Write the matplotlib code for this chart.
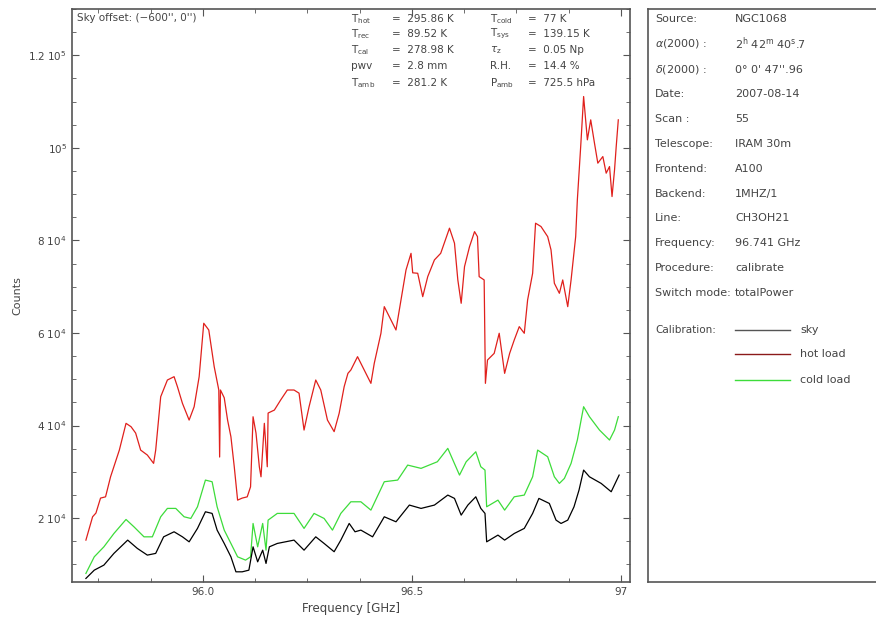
import matplotlib
matplotlib.use("Agg")
import matplotlib.pyplot as plt
from matplotlib.ticker import MultipleLocator

# calibration scan: counts vs frequency for sky, hot load and cold load
freq_hot = [95.720, 95.736, 95.744, 95.755, 95.767, 95.779, 95.800, 95.816, 95.828, 95.839,
            95.851, 95.867, 95.882, 95.887, 95.899, 95.915, 95.931, 95.939, 95.951, 95.967,
            95.979, 95.991, 96.002, 96.014, 96.027, 96.038, 96.040, 96.042, 96.051, 96.059,
            96.067, 96.075, 96.083, 96.094, 96.106, 96.114, 96.120, 96.127, 96.135, 96.139,
            96.147, 96.154, 96.156, 96.171, 96.186, 96.202, 96.218, 96.230, 96.242, 96.254,
            96.270, 96.282, 96.298, 96.314, 96.326, 96.338, 96.347, 96.354, 96.370, 96.386,
            96.402, 96.410, 96.426, 96.434, 96.450, 96.462, 96.470, 96.482, 96.486, 96.498,
            96.502, 96.514, 96.526, 96.538, 96.554, 96.569, 96.590, 96.602, 96.610, 96.618,
            96.626, 96.638, 96.650, 96.657, 96.661, 96.673, 96.676, 96.681, 96.697, 96.709,
            96.722, 96.734, 96.745, 96.757, 96.769, 96.777, 96.789, 96.796, 96.809, 96.825,
            96.833, 96.841, 96.853, 96.861, 96.873, 96.881, 96.892, 96.896, 96.904, 96.911,
            96.920, 96.928, 96.937, 96.945, 96.957, 96.965, 96.973, 96.979, 96.985, 96.989,
            96.994]
hot_load = [15250, 20290, 21100, 24330, 24600, 28930, 34700, 40480, 39750, 38380,
            34700, 33630, 31830, 34700, 46230, 49840, 50560, 48400, 44800, 41190,
            44070, 50560, 62100, 60650, 52720, 47680, 33200, 47680, 46000, 41190,
            37580, 31100, 23890, 24330, 24600, 26770, 41900, 38380, 31100, 28930,
            40480, 31100, 42700, 43350, 45520, 47680, 47680, 47000, 39030, 44070,
            49840, 47680, 41190, 38690, 42640, 48400, 51280, 52000, 54880, 52000,
            49120, 53440, 59940, 65690, 62810, 60650, 64980, 71460, 73620, 77210,
            73000, 72900, 67850, 72180, 75790, 77210, 82640, 79400, 71460, 66420,
            74340, 78660, 81900, 80820, 72180, 71460, 49120, 54160, 55600, 59940,
            51280, 55600, 58490, 61370, 59940, 67140, 72900, 83720, 83000, 80820,
            77950, 70740, 68580, 71460, 65690, 71460, 80820, 88760, 100280, 111090,
            101730, 106050, 101010, 96690, 98120, 94530, 95960, 89480, 95240, 100280,
            106050]

freq_cold = [95.720, 95.740, 95.763, 95.787, 95.816, 95.835, 95.859, 95.879, 95.899, 95.915,
             95.935, 95.955, 95.971, 95.987, 96.006, 96.022, 96.034, 96.051, 96.067, 96.083,
             96.102, 96.114, 96.120, 96.131, 96.143, 96.151, 96.156, 96.178, 96.218, 96.242,
             96.266, 96.290, 96.310, 96.330, 96.354, 96.378, 96.402, 96.434, 96.466, 96.490,
             96.522, 96.561, 96.586, 96.614, 96.630, 96.653, 96.665, 96.675, 96.679, 96.706,
             96.722, 96.745, 96.769, 96.789, 96.801, 96.825, 96.841, 96.853, 96.865, 96.881,
             96.896, 96.911, 96.925, 96.949, 96.973, 96.985, 96.994]
cold_load = [8050, 11640, 13800, 16680, 19710, 18120, 15960, 15960, 20290, 22100,
             22100, 20290, 19930, 22450, 28220, 27860, 22450, 17410, 14530, 11640,
             10930, 11640, 18850, 13800, 18850, 13080, 19570, 21020, 21020, 17780,
             21020, 19930, 17410, 21020, 23530, 23530, 21730, 27860, 28220, 31460,
             30750, 32180, 35070, 29300, 32180, 34340, 31100, 30380, 22450, 23890,
             21730, 24610, 24980, 28930, 34700, 33260, 28930, 27500, 28580, 31830,
             36870, 44070, 41910, 39030, 36870, 39030, 41910]

freq_sky = [95.720, 95.740, 95.763, 95.787, 95.820, 95.843, 95.867, 95.887, 95.906, 95.931,
            95.951, 95.967, 95.987, 96.006, 96.022, 96.034, 96.051, 96.067, 96.079, 96.094,
            96.110, 96.120, 96.131, 96.143, 96.151, 96.159, 96.178, 96.218, 96.242, 96.270,
            96.290, 96.314, 96.330, 96.350, 96.364, 96.378, 96.406, 96.434, 96.462, 96.494,
            96.522, 96.554, 96.586, 96.602, 96.618, 96.634, 96.653, 96.665, 96.675, 96.679,
            96.706, 96.722, 96.745, 96.769, 96.789, 96.804, 96.829, 96.845, 96.857, 96.873,
            96.888, 96.900, 96.911, 96.925, 96.953, 96.977, 96.996]
sky = [6970, 8760, 9850, 12380, 15250, 13460, 12010, 12380, 15960, 17050,
       15960, 14880, 17780, 21370, 21020, 17410, 14530, 11640, 8400, 8400,
       8760, 13800, 10560, 13080, 10210, 13800, 14530, 15250, 13080, 15960,
       14530, 12740, 15250, 18850, 17050, 17410, 15960, 20290, 19210, 22820,
       22100, 22820, 24980, 24260, 20650, 22820, 24610, 22100, 21020, 14880,
       16330, 15250, 16680, 17780, 21020, 24260, 23170, 19570, 18850, 19570,
       22450, 26060, 30380, 28930, 27500, 25700, 29300]

ytick_vals = [2e4, 4e4, 6e4, 8e4, 1e5, 1.2e5]
ytick_labels = ["2 10$^4$", "4 10$^4$", "6 10$^4$", "8 10$^4$", "10$^5$", "1.2 10$^5$"]
xtick_vals = [96.0, 96.5, 97.0]
xtick_labels = ["96.0", "96.5", "97"]

# header values printed above the spectra
left_keys = [r"T$_{\rm hot}$", r"T$_{\rm rec}$", r"T$_{\rm cal}$", "pwv", r"T$_{\rm amb}$"]
left_vals = ["295.86 K", "89.52 K", "278.98 K", "2.8 mm", "281.2 K"]
right_keys = [r"T$_{\rm cold}$", r"T$_{\rm sys}$", r"$\tau_{\rm z}$", "R.H.", r"P$_{\rm amb}$"]
right_vals = ["77 K", "139.15 K", "0.05 Np", "14.4 %", "725.5 hPa"]

info_keys = ["Source:", r"$\alpha$(2000) :", r"$\delta$(2000) :", "Date:", "Scan :",
             "Telescope:", "Frontend:", "Backend:", "Line:", "Frequency:",
             "Procedure:", "Switch mode:"]
info_vals = ["NGC1068", r"2$^{\rm h}$ 42$^{\rm m}$ 40$^{\rm s}$.7", "0° 0' 47''.96",
             "2007-08-14", "55", "IRAM 30m", "A100", "1MHZ/1", "CH3OH21",
             "96.741 GHz", "calibrate", "totalPower"]

RED = "#e0201c"
GREEN = "#3ddc3a"
TXT = "#444444"

W, H = 876, 622
fig = plt.figure(figsize=(W / 100, H / 100), dpi=100)

ax = fig.add_axes([71.7 / W, 40 / H, 558.3 / W, 573 / H])
ax.plot(freq_hot, hot_load, color=RED, lw=0.9)
ax.plot(freq_cold, cold_load, color=GREEN, lw=0.9)
ax.plot(freq_sky, sky, color="black", lw=0.9)

ax.set_xlim(95.686, 97.022)
ax.set_ylim(6200, 130000)
ax.set_xticks(xtick_vals)
ax.set_xticklabels(xtick_labels)
ax.set_yticks(ytick_vals)
ax.set_yticklabels(ytick_labels)
ax.xaxis.set_minor_locator(MultipleLocator(0.125))
ax.yaxis.set_minor_locator(MultipleLocator(5000))
ax.tick_params(which="both", direction="in", top=True, right=True,
               colors="#555555", labelcolor=TXT, labelsize=7.5)
ax.tick_params(which="major", length=5, width=0.8)
ax.tick_params(which="minor", length=3, width=0.6)
for s in ax.spines.values():
    s.set_color("#555555")
    s.set_linewidth(1.2)

ax.set_xlabel("Frequency [GHz]", fontsize=8.5, color=TXT, labelpad=4)
ax.set_ylabel("Counts", fontsize=8, color=TXT, labelpad=4)

ax.text(0.01, 0.984, "Sky offset: (\u2212600'', 0'')", transform=ax.transAxes,
        fontsize=7.5, color=TXT, va="center", ha="left")

row_y = [19, 34, 50, 66, 83]
for i, y in enumerate(row_y):
    fy = 1 - (y - 9) / 573
    ax.text((351 - 71.7) / 558.3, fy, left_keys[i], transform=ax.transAxes,
            fontsize=7.5, color=TXT, va="center")
    ax.text((392 - 71.7) / 558.3, fy, "=  " + left_vals[i], transform=ax.transAxes,
            fontsize=7.5, color=TXT, va="center")
    ax.text((490 - 71.7) / 558.3, fy, right_keys[i], transform=ax.transAxes,
            fontsize=7.5, color=TXT, va="center")
    ax.text((528 - 71.7) / 558.3, fy, "=  " + right_vals[i], transform=ax.transAxes,
            fontsize=7.5, color=TXT, va="center")

# side panel with scan information
pan = fig.add_axes([647.5 / W, 40 / H, 240 / W, 573 / H])
pan.set_xlim(647.5, 887.5)
pan.set_ylim(582, 9)
pan.set_xticks([])
pan.set_yticks([])
for s in pan.spines.values():
    s.set_color("#555555")
    s.set_linewidth(1.2)

info_y = [19, 44, 70, 94, 119, 144, 169, 194, 218, 243, 268, 293]
for key, val, y in zip(info_keys, info_vals, info_y):
    pan.text(655, y, key, fontsize=8, color=TXT, va="center")
    pan.text(735, y, val, fontsize=8, color=TXT, va="center")

pan.text(655, 330, "Calibration:", fontsize=7.5, color=TXT, va="center")
for y, col, lab in [(330, "#555555", "sky"), (354, "#8b1a1a", "hot load"),
                    (380, GREEN, "cold load")]:
    pan.plot([735, 790], [y, y], color=col, lw=1.0)
    pan.text(800, y, lab, fontsize=8, color=TXT, va="center")

fig.savefig("out.png", dpi=100)
